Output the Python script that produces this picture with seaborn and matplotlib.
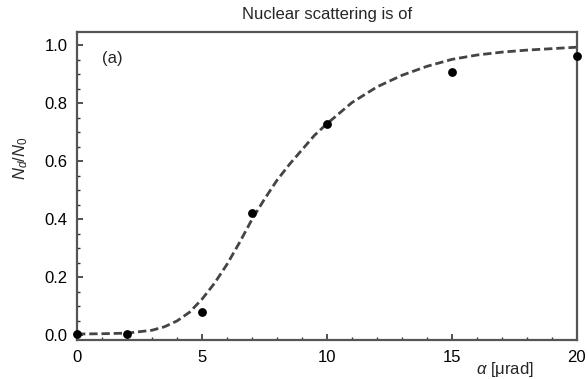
import numpy as np
import pandas as pd
import matplotlib
matplotlib.use('Agg')
import matplotlib.pyplot as plt
from matplotlib.ticker import MultipleLocator
import seaborn as sns

# measured points
alpha_pts = [0, 2, 5, 7, 10, 15, 20]
ratio_pts = [0.005, 0.006, 0.082, 0.421, 0.728, 0.907, 0.965]

# dashed fit curve
alpha_fit = [0, 1, 2, 3, 3.5, 4, 4.5, 5, 5.5, 6, 6.5, 7, 7.5, 8, 8.5, 9,
             9.5, 10, 11, 12, 13, 14, 15, 16, 17, 18, 19, 20]
ratio_fit = [0.005, 0.006, 0.008, 0.018, 0.03, 0.05, 0.08, 0.125, 0.18,
             0.245, 0.32, 0.40, 0.47, 0.535, 0.59, 0.64, 0.69, 0.73,
             0.803, 0.857, 0.897, 0.928, 0.952, 0.967, 0.977, 0.984,
             0.989, 0.994]

title = 'Nuclear scattering is of'

sns.set_style('ticks')
plt.rcParams['font.family'] = ['Liberation Sans', 'DejaVu Sans']
plt.rcParams['mathtext.fontset'] = 'custom'
plt.rcParams['mathtext.it'] = 'Liberation Sans:italic'
plt.rcParams['mathtext.rm'] = 'Liberation Sans'

fig = plt.figure(figsize=(5.88, 3.79), dpi=100)
ax = fig.add_axes([0.131, 0.103, 0.850, 0.813])

fit = pd.DataFrame({'alpha': alpha_fit, 'ratio': ratio_fit})
pts = pd.DataFrame({'alpha': alpha_pts, 'ratio': ratio_pts})

sns.lineplot(data=fit, x='alpha', y='ratio', ax=ax, color='#444444',
             linewidth=2.0, dashes=False, zorder=2)
ax.lines[0].set_dashes([3.0, 1.4])
sns.scatterplot(data=pts, x='alpha', y='ratio', ax=ax, color='black',
                s=40, edgecolor='black', linewidth=0, zorder=3, clip_on=False)

ax.set_xlim(0, 20)
ax.set_ylim(-0.0155, 1.047)
ax.xaxis.set_major_locator(MultipleLocator(5))
ax.xaxis.set_minor_locator(MultipleLocator(1))
ax.yaxis.set_major_locator(MultipleLocator(0.2))
ax.yaxis.set_minor_locator(MultipleLocator(0.05))
ax.yaxis.set_major_formatter(matplotlib.ticker.FormatStrFormatter('%.1f'))

ax.tick_params(which='both', direction='in', top=False, right=False,
               color='#333333', labelsize=12, labelcolor='black')
ax.tick_params(which='major', length=4, width=1.2, pad=7)
ax.tick_params(which='minor', length=2.5, width=1.0)
for sp in ax.spines.values():
    sp.set_color('#555555')
    sp.set_linewidth(1.6)

ax.set_xlabel(r'$\alpha$ [μrad]', fontsize=12)
ax.xaxis.set_label_coords(0.855, -0.065)
ax.set_ylabel(r'$N_d/N_0$', fontsize=12)
ax.yaxis.set_label_coords(-0.094, 0.59)
ax.set_title(title, fontsize=12, pad=8, y=1.0)
ax.title.set_position((0.5, 1.005))
ax.text(1.0, 0.955, '(a)', fontsize=12, va='center', ha='left')

fig.savefig('out.png', dpi=100)
